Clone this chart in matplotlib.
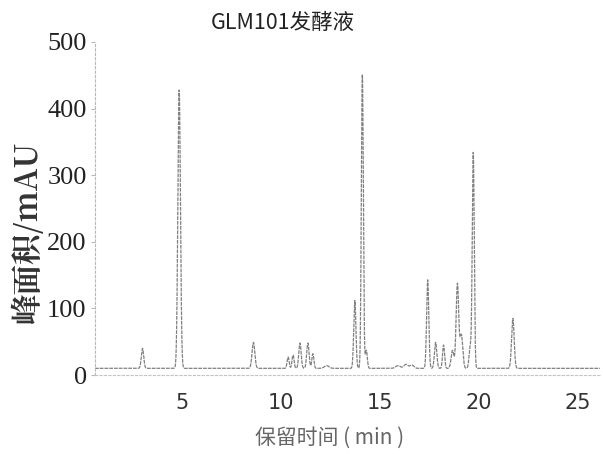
import numpy as np
import matplotlib
matplotlib.use("Agg")
import matplotlib.pyplot as plt

# Peak table (retention time in min, height above baseline in mAU, width sigma in min)
peak_times   = [3.0, 4.85, 8.6, 10.35, 10.6, 10.95, 11.35, 11.6, 12.3, 13.72, 14.1, 14.3,
                15.9, 16.3, 16.6, 17.4, 17.8, 18.2, 18.65, 18.9, 19.1, 19.55, 19.7, 21.7]
peak_heights = [30, 418, 39, 17, 20, 38, 38, 22, 4, 102, 442, 27,
                4, 6, 5, 133, 39, 35, 27, 127, 50, 32, 323, 75]
peak_sigmas  = [0.06, 0.065, 0.07, 0.05, 0.05, 0.06, 0.06, 0.05, 0.12, 0.055, 0.05, 0.05,
                0.12, 0.1, 0.1, 0.055, 0.06, 0.05, 0.07, 0.065, 0.07, 0.06, 0.05, 0.065]
baseline_level = 10

x_ticks = [5, 10, 15, 20, 25]
y_ticks = [0, 100, 200, 300, 400, 500]

title = "GLM101发酵液"
x_label = "保留时间 ( min )"
y_label = "峰面积/mAU"

t = np.linspace(0.6, 26.1, 5000)
signal = np.full_like(t, float(baseline_level))
for rt, h, s in zip(peak_times, peak_heights, peak_sigmas):
    signal += h * np.exp(-0.5 * ((t - rt) / s) ** 2)

fig = plt.figure(figsize=(6.03, 4.54), dpi=100)
ax = fig.add_axes([95/603, 1-375/454, 505/603, (375-42)/454])
ax.plot(t, signal, color="#808080", lw=0.9, linestyle=(0, (3, 0.8)))
ax.set_xlim(0.6, 26.1)
ax.set_ylim(0, 500)

for sp in ["top", "right"]:
    ax.spines[sp].set_visible(False)
ax.spines["left"].set_color("#b8b8b8")
ax.spines["left"].set_linestyle((0, (2, 2)))
ax.spines["left"].set_linewidth(0.8)
ax.spines["bottom"].set_color("#c4c4c4")
ax.spines["bottom"].set_linestyle((0, (2, 2)))
ax.spines["bottom"].set_linewidth(0.8)

ax.set_xticks(x_ticks)
ax.set_xticklabels([str(v) for v in x_ticks], fontsize=15, color="#333333", family="DejaVu Sans")
ax.set_yticks(y_ticks)
ax.set_yticklabels([str(v) for v in y_ticks], fontsize=19, color="#222222", family="Liberation Serif")
ax.tick_params(axis="x", length=0, pad=13)
ax.tick_params(axis="y", length=3, color="#b8b8b8", pad=3)

fig.text(283/603, 1-23/454, title, ha="center", va="center", fontsize=15.5,
         family=["Noto Sans CJK SC", "DejaVu Sans"], color="#222222")
fig.text(330/603, 1-438/454, x_label, ha="center", va="center", fontsize=15,
         family=["Noto Sans CJK SC", "DejaVu Sans"], color="#666666")
fig.text(29/603, 1-233/454, y_label, ha="center", va="center", rotation=90, fontsize=22,
         family=["Noto Serif CJK SC", "Liberation Serif", "Noto Sans CJK SC"], fontweight="bold", color="#333333")

fig.savefig("out.png", dpi=100)
